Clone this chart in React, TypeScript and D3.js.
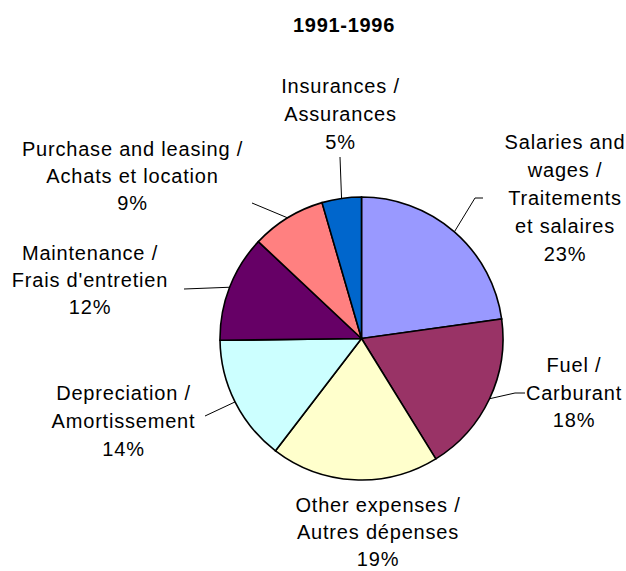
import React from "react";
import * as d3 from "d3";

// cost shares 1991-1996
const categories = [
  "Salaries and wages / Traitements et salaires",
  "Fuel / Carburant",
  "Other expenses / Autres dépenses",
  "Depreciation / Amortissement",
  "Maintenance / Frais d'entretien",
  "Purchase and leasing / Achats et location",
  "Insurances / Assurances",
];
const shares = [22.8, 18.4, 19.2, 14.4, 12.2, 8.5, 4.5];
const labelLines = [
  ["Salaries and", "wages /", "Traitements", "et salaires"],
  ["Fuel /", "Carburant"],
  ["Other expenses /", "Autres dépenses"],
  ["Depreciation /", "Amortissement"],
  ["Maintenance /", "Frais d'entretien"],
  ["Purchase and leasing /", "Achats et location"],
  ["Insurances /", "Assurances"],
];
const colors = ["#9999FF", "#993366", "#FFFFCC", "#CCFFFF", "#660066", "#FF8080", "#0066CC"];

const W = 626;
const H = 571;
const cx = 361.5;
const cy = 338.5;
const R = 141.5;

// label block positions (centre x, first baseline, line step) and leader elbows
const labelPos = [
  { x: 565, y: 149.3, step: 27.8, leader: [[475, 198], [483, 198]] },
  { x: 574, y: 371.7, step: 27.8, leader: [[515, 393], [525, 393]] },
  { x: 378, y: 512, step: 27, leader: null },
  { x: 123.5, y: 400, step: 28, leader: [[205, 416]] },
  { x: 90, y: 260, step: 27, leader: [[184, 289]] },
  { x: 132.5, y: 155.7, step: 27.2, leader: [[252, 203]] },
  { x: 340.5, y: 93.3, step: 28, leader: [[340, 157]] },
];

const App = () => {
  const pie = d3.pie<number>().sort(null).value(d => d);
  const arcs = pie(shares);
  const arc = d3.arc<d3.PieArcDatum<number>>().innerRadius(0).outerRadius(R);
  const edge = d3.arc<d3.PieArcDatum<number>>().innerRadius(R).outerRadius(R);
  const line = d3.line();

  return (
    <svg
      width={W}
      height={H}
      style={{ position: "absolute", left: 0, top: 0, background: "#fff" }}
      fontFamily="'Liberation Sans', Arial, sans-serif"
    >
      <text x={344} y={31.7} textAnchor="middle" fontSize={20} fontWeight="bold" letterSpacing={0.7}>
        1991-1996
      </text>

      <g transform={`translate(${cx},${cy})`}>
        {arcs.map((a, i) => (
          <path key={categories[i]} d={arc(a) || ""} fill={colors[i]} stroke="#000" strokeWidth={1.6} />
        ))}
      </g>

      {arcs.map((a, i) => {
        const lp = labelPos[i];
        if (!lp.leader) return null;
        const [ex, ey] = edge.centroid(a);
        const pts = [[cx + ex, cy + ey], ...lp.leader] as [number, number][];
        return <path key={"l" + i} d={line(pts) || ""} fill="none" stroke="#000" strokeWidth={1} />;
      })}

      {labelLines.map((lines, i) => {
        const lp = labelPos[i];
        const all = [...lines, `${Math.round(shares[i])}%`];
        return (
          <text key={"t" + i} textAnchor="middle" fontSize={20} letterSpacing={0.8} fill="#000">
            {all.map((s, j) => (
              <tspan key={j} x={lp.x} y={lp.y + j * lp.step}>
                {s}
              </tspan>
            ))}
          </text>
        );
      })}
    </svg>
  );
};

export default App;
